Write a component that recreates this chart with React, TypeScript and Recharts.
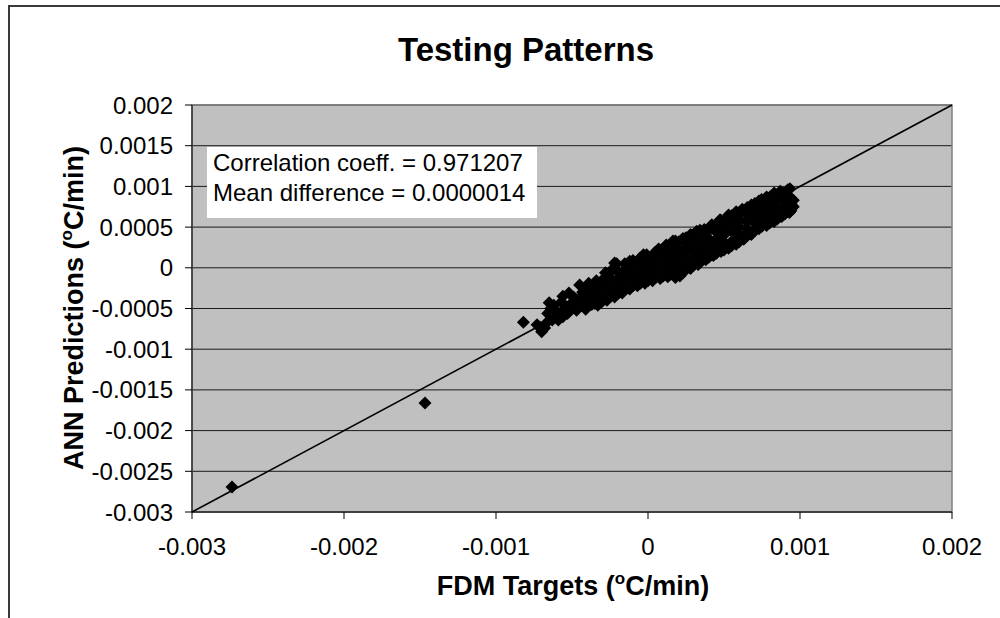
import {
  ScatterChart,
  Scatter,
  XAxis,
  YAxis,
  CartesianGrid,
  ReferenceLine,
  ReferenceArea,
  Label,
} from 'recharts';

const xTicks = [-0.003, -0.002, -0.001, 0, 0.001, 0.002];
const xTickLabels = ['-0.003', '-0.002', '-0.001', '0', '0.001', '0.002'];
const yTicks = [-0.003, -0.0025, -0.002, -0.0015, -0.001, -0.0005, 0, 0.0005, 0.001, 0.0015, 0.002];
const yTickLabels = ['-0.003', '-0.0025', '-0.002', '-0.0015', '-0.001', '-0.0005', '0', '0.0005', '0.001', '0.0015', '0.002'];

// perfect-agreement line (y = x)
const lineStart = { x: -0.003, y: -0.003 };
const lineEnd = { x: 0.002, y: 0.002 };

const statLines = ['Correlation coeff. = 0.971207', 'Mean difference = 0.0000014'];

// [FDM target, ANN prediction]
const outliers = [
  [-2.737e-3, -2.693e-3],
  [-1.467e-3, -1.661e-3],
];

const lowerTail = [
  [-8.2e-4, -6.7e-4], [-7.3e-4, -7.0e-4], [-7.0e-4, -7.85e-4], [-6.8e-4, -7.4e-4],
  [-6.5e-4, -4.3e-4], [-6.3e-4, -6.4e-4], [-6.0e-4, -6.0e-4], [-5.8e-4, -5.6e-4],
  [-5.6e-4, -3.5e-4], [-5.4e-4, -4.9e-4], [-5.2e-4, -3.1e-4], [-5.0e-4, -4.3e-4],
  [-4.7e-4, -5.2e-4], [-4.5e-4, -2.1e-4], [-4.4e-4, -3.6e-4], [-4.2e-4, -4.7e-4],
  [-3.8e-4, -2.7e-4], [-3.3e-4, -4.2e-4], [-3.2e-4, -3.5e-4],
  [-6.1e-4, -5.2e-4], [-6.2e-4, -4.6e-4], [-5.9e-4, -6.4e-4], [-5.6e-4, -6.0e-4],
  [-5.7e-4, -4.2e-4], [-5.3e-4, -5.6e-4], [-5.1e-4, -5.2e-4], [-4.9e-4, -3.6e-4],
  [-4.8e-4, -4.6e-4], [-4.6e-4, -4.0e-4], [-4.3e-4, -3.0e-4], [-4.1e-4, -5.1e-4],
  [-3.7e-4, -4.5e-4], [-3.6e-4, -3.0e-4], [-6.7e-4, -6.8e-4], [-7.1e-4, -7.3e-4],
  [-6.6e-4, -5.6e-4], [-6.4e-4, -5.0e-4], [-3.4e-4, -1.6e-4], [-3.9e-4, -1.9e-4],
];

const band = [
  [-4.0e-4, -4.7e-4], [-3.96e-4, -3.9e-4], [-4.02e-4, -3.1e-4], [-3.98e-4, -2.4e-4],
  [-3.5e-4, -4.4e-4], [-3.52e-4, -3.6e-4], [-3.47e-4, -2.8e-4], [-3.5e-4, -2.0e-4],
  [-3.0e-4, -4.1e-4], [-3.03e-4, -3.3e-4], [-2.98e-4, -2.4e-4], [-3.0e-4, -1.5e-4],
  [-2.5e-4, -3.6e-4], [-2.52e-4, -2.8e-4], [-2.48e-4, -2.0e-4], [-2.5e-4, -1.2e-4], [-2.46e-4, -0.4e-4],
  [-2.0e-4, -3.2e-4], [-2.03e-4, -2.3e-4], [-1.98e-4, -1.4e-4], [-2.0e-4, -0.5e-4], [-2.06e-4, 0.5e-4],
  [-1.5e-4, -2.7e-4], [-1.52e-4, -1.9e-4], [-1.47e-4, -1.0e-4], [-1.5e-4, -0.2e-4], [-1.53e-4, 0.5e-4],
  [-1.0e-4, -2.2e-4], [-0.98e-4, -1.4e-4], [-1.02e-4, -0.6e-4], [-1.0e-4, 0.2e-4], [-0.99e-4, 0.9e-4],
  [-0.5e-4, -1.9e-4], [-0.53e-4, -1.1e-4], [-0.48e-4, -0.3e-4], [-0.5e-4, 0.5e-4], [-0.52e-4, 1.2e-4],
  [0.0, -1.6e-4], [0.02e-4, -0.8e-4], [-0.03e-4, 0.0], [0.01e-4, 0.8e-4], [-0.09e-4, 1.6e-4],
  [0.5e-4, -1.2e-4], [0.48e-4, -0.4e-4], [0.53e-4, 0.4e-4], [0.5e-4, 1.2e-4], [0.47e-4, 1.9e-4],
  [1.0e-4, -1.0e-4], [1.02e-4, -0.2e-4], [0.98e-4, 0.6e-4], [1.0e-4, 1.5e-4], [1.03e-4, 2.3e-4],
  [1.5e-4, -0.8e-4], [1.48e-4, 0.1e-4], [1.52e-4, 1.0e-4], [1.5e-4, 1.9e-4], [1.47e-4, 2.7e-4], [1.64e-4, 3.3e-4],
  [2.0e-4, -0.4e-4], [2.1e-4, -1.0e-4], [2.02e-4, 0.5e-4], [1.98e-4, 1.4e-4], [2.0e-4, 2.3e-4], [2.03e-4, 3.2e-4],
  [2.5e-4, 0.0], [2.52e-4, 0.9e-4], [2.48e-4, 1.8e-4], [2.55e-4, 2.6e-4], [2.5e-4, 3.7e-4],
  [3.0e-4, 0.3e-4], [2.98e-4, 1.2e-4], [3.02e-4, 2.1e-4], [3.0e-4, 3.1e-4], [2.97e-4, 4.0e-4],
  [3.5e-4, 0.8e-4], [3.48e-4, 1.7e-4], [3.52e-4, 2.6e-4], [3.5e-4, 3.5e-4], [3.42e-4, 4.6e-4],
  [4.0e-4, 1.3e-4], [4.02e-4, 2.2e-4], [3.98e-4, 3.1e-4], [3.86e-4, 3.8e-4], [4.0e-4, 4.8e-4],
  [4.5e-4, 1.8e-4], [4.52e-4, 2.7e-4], [4.48e-4, 3.5e-4], [4.5e-4, 4.4e-4], [4.74e-4, 5.9e-4], [4.5e-4, 5.2e-4],
  [5.0e-4, 2.2e-4], [5.02e-4, 3.1e-4], [4.98e-4, 4.0e-4], [5.0e-4, 4.9e-4], [5.03e-4, 5.7e-4],
  [5.5e-4, 2.7e-4], [5.61e-4, 3.4e-4], [5.52e-4, 4.5e-4], [5.48e-4, 5.5e-4], [5.5e-4, 6.4e-4],
  [6.0e-4, 3.2e-4], [6.02e-4, 4.1e-4], [5.98e-4, 5.0e-4], [6.0e-4, 5.9e-4], [6.03e-4, 6.8e-4],
  [6.5e-4, 3.9e-4], [6.49e-4, 4.2e-4], [6.52e-4, 4.8e-4], [6.48e-4, 5.7e-4], [6.5e-4, 6.6e-4], [6.53e-4, 7.4e-4],
  [7.0e-4, 4.6e-4], [7.02e-4, 5.5e-4], [6.98e-4, 6.3e-4], [7.15e-4, 6.7e-4], [7.0e-4, 7.1e-4], [7.03e-4, 7.9e-4],
  [7.5e-4, 5.1e-4], [7.48e-4, 6.0e-4], [7.52e-4, 6.8e-4], [7.5e-4, 7.6e-4], [7.47e-4, 8.4e-4],
  [8.0e-4, 5.5e-4], [8.03e-4, 5.7e-4], [8.02e-4, 6.3e-4], [7.98e-4, 7.1e-4], [8.0e-4, 7.9e-4], [8.03e-4, 8.7e-4],
  [8.5e-4, 6.0e-4], [8.68e-4, 6.3e-4], [8.52e-4, 6.8e-4], [8.48e-4, 7.6e-4], [8.5e-4, 8.4e-4], [8.53e-4, 9.0e-4],
  [9.0e-4, 6.6e-4], [8.9e-4, 9.15e-4], [9.02e-4, 7.4e-4], [8.98e-4, 8.2e-4], [9.0e-4, 8.9e-4],
  [9.4e-4, 7.0e-4], [9.56e-4, 7.5e-4], [9.42e-4, 7.8e-4], [9.56e-4, 8.3e-4], [9.38e-4, 8.6e-4], [9.34e-4, 9.7e-4],
];

const upperEdge = [
  [-2.8e-4, -0.6e-4], [-2.2e-4, 0.6e-4], [-1.2e-4, 0.8e-4], [-0.3e-4, 1.6e-4], [0.7e-4, 2.3e-4],
  [1.2e-4, 2.8e-4], [1.8e-4, 3.3e-4], [2.3e-4, 3.6e-4], [2.8e-4, 4.1e-4], [3.2e-4, 4.5e-4],
  [3.7e-4, 4.7e-4], [4.2e-4, 5.3e-4], [4.8e-4, 5.8e-4], [5.3e-4, 6.5e-4], [5.8e-4, 6.9e-4],
  [6.2e-4, 7.2e-4], [6.8e-4, 7.7e-4], [7.3e-4, 8.2e-4], [7.8e-4, 8.7e-4], [8.3e-4, 9.2e-4],
  [8.7e-4, 9.4e-4], [9.2e-4, 9.6e-4],
];

const lowerEdge = [
  [-3.3e-4, -4.6e-4], [-2.7e-4, -4.0e-4], [-2.2e-4, -3.6e-4], [-1.7e-4, -3.1e-4], [-1.2e-4, -2.6e-4],
  [-0.7e-4, -2.2e-4], [-0.2e-4, -1.9e-4], [0.3e-4, -1.6e-4], [0.8e-4, -1.3e-4], [1.3e-4, -1.1e-4],
  [1.8e-4, -1.2e-4], [2.3e-4, -0.6e-4], [2.8e-4, -0.1e-4], [3.3e-4, 0.4e-4], [3.8e-4, 1.0e-4],
  [4.3e-4, 1.5e-4], [4.8e-4, 2.0e-4], [5.3e-4, 2.4e-4], [5.8e-4, 2.9e-4], [6.3e-4, 3.5e-4],
  [6.8e-4, 4.1e-4], [7.3e-4, 4.8e-4], [7.8e-4, 5.2e-4], [8.3e-4, 5.7e-4], [8.8e-4, 6.3e-4],
  [9.3e-4, 6.8e-4],
];

const points = [...outliers, ...lowerTail, ...band, ...upperEdge, ...lowerEdge].map(([x, y]) => ({ x, y }));

const FONT = '"Liberation Sans", Arial, sans-serif';

function Diamond(props: any) {
  const { cx, cy } = props;
  const r = 6.5;
  return (
    <polygon
      points={`${cx},${cy - r} ${cx + r},${cy} ${cx},${cy + r} ${cx - r},${cy}`}
      fill="#000"
    />
  );
}

function XTitle() {
  return (
    <text x={573} y={595} textAnchor="middle" fontFamily={FONT} fontSize={27} fontWeight="bold" fill="#000">
      FDM Targets (
      <tspan fontSize={17} dy={-11}>o</tspan>
      <tspan dy={11}>C/min)</tspan>
    </text>
  );
}

function YTitle() {
  return (
    <text
      x={83}
      y={308}
      transform="rotate(-90 83 308)"
      textAnchor="middle"
      fontFamily={FONT}
      fontSize={27}
      fontWeight="bold"
      fill="#000"
    >
      ANN Predictions (
      <tspan fontSize={17} dy={-11}>o</tspan>
      <tspan dy={11}>C/min)</tspan>
    </text>
  );
}

export default function App() {
  return (
    <div
      style={{
        position: 'absolute',
        left: 0,
        top: 0,
        width: 1000,
        height: 618,
        background: '#fff',
        overflow: 'hidden',
        fontFamily: FONT,
      }}
    >
      <div
        style={{
          position: 'absolute',
          left: 8,
          top: 5,
          width: 1100,
          height: 700,
          border: '2px solid #3a3a3a',
        }}
      />
      <div
        style={{
          position: 'absolute',
          left: 0,
          top: 34,
          width: 1052,
          textAlign: 'center',
          fontSize: 33,
          lineHeight: '32px',
          fontWeight: 'bold',
          color: '#000',
        }}
      >
        Testing Patterns
      </div>
      <div style={{ position: 'absolute', left: 0, top: 0 }}>
        <ScatterChart width={1000} height={618} margin={{ top: 105, right: 48, bottom: 56, left: 92 }}>
          <CartesianGrid vertical={false} stroke="#1a1a1a" fill="#C0C0C0" fillOpacity={1} />
          <XAxis
            type="number"
            dataKey="x"
            domain={[-0.003, 0.002]}
            ticks={xTicks}
            interval={0}
            allowDataOverflow
            height={50}
            tickSize={7}
            tickMargin={19}
            stroke="#000"
            tick={{ fill: '#000', fontSize: 24, fontFamily: FONT }}
            tickFormatter={(_v: number, i: number) => xTickLabels[i]}
          >
            <Label content={<XTitle />} />
          </XAxis>
          <YAxis
            type="number"
            dataKey="y"
            domain={[-0.003, 0.002]}
            ticks={yTicks}
            interval={0}
            allowDataOverflow
            width={100}
            tickSize={7}
            tickMargin={12}
            stroke="#000"
            tick={{ fill: '#000', fontSize: 24, fontFamily: FONT }}
            tickFormatter={(_v: number, i: number) => yTickLabels[i]}
          >
            <Label content={<YTitle />} />
          </YAxis>
          <ReferenceArea
            x1={-0.003}
            x2={0.002}
            y1={-0.003}
            y2={0.002}
            fill="none"
            fillOpacity={0}
            stroke="#808080"
            strokeWidth={1.5}
          />
          <ReferenceLine segment={[lineStart, lineEnd]} stroke="#000" strokeWidth={1.6} />
          <Scatter data={points} shape={<Diamond />} isAnimationActive={false} />
        </ScatterChart>
      </div>
      <div
        style={{
          position: 'absolute',
          left: 207,
          top: 147,
          width: 318,
          height: 69,
          padding: '1px 6px',
          background: '#fff',
          fontSize: 24,
          lineHeight: '30px',
          color: '#000',
          whiteSpace: 'nowrap',
        }}
      >
        {statLines.map((s) => (
          <div key={s}>{s}</div>
        ))}
      </div>
    </div>
  );
}
